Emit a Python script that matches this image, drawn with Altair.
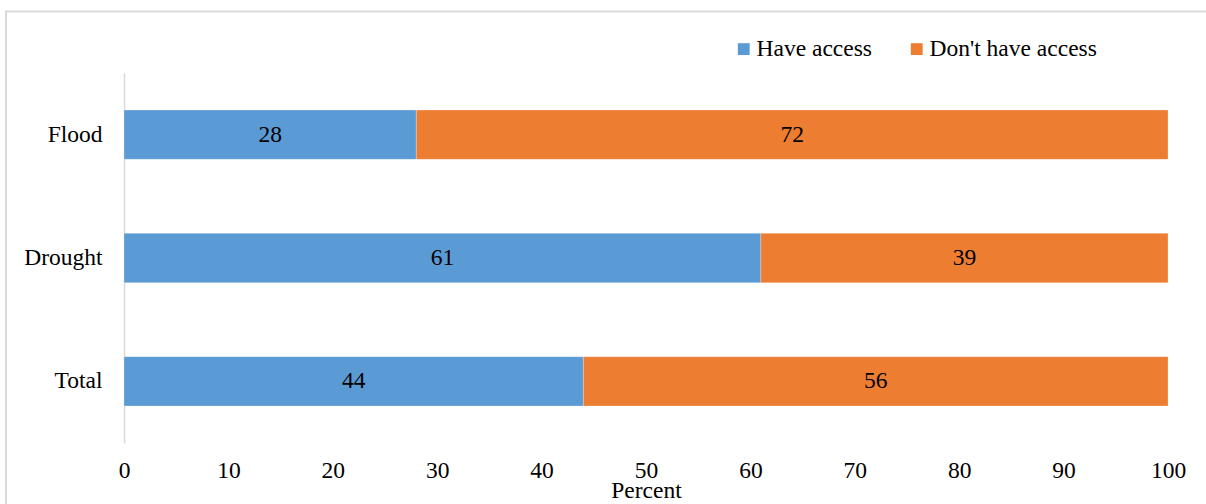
import altair as alt
import pandas as pd

categories = ["Flood", "Drought", "Total"]
have_access = [28, 61, 44]
no_access = [72, 39, 56]
series = ["Have access", "Don't have access"]
colors = ["#5B9BD5", "#ED7D31"]
x_ticks = [0, 10, 20, 30, 40, 50, 60, 70, 80, 90, 100]

rows = []
for c, a, n in zip(categories, have_access, no_access):
    rows.append({"Hazard": c, "Access": series[0], "Percent": a, "ord": 0})
    rows.append({"Hazard": c, "Access": series[1], "Percent": n, "ord": 1})
df = pd.DataFrame(rows)

FONT = "Liberation Serif"
FS = 23.5

base = alt.Chart(df).transform_stack(
    stack="Percent", as_=["start", "end"], groupby=["Hazard"],
    sort=[alt.SortField("ord", order="ascending")]
).transform_calculate(mid="(datum.start + datum.end) / 2")

y_enc = alt.Y("Hazard:N", sort=categories,
              scale=alt.Scale(paddingInner=0.6, paddingOuter=0.3),
              axis=alt.Axis(title=None, ticks=False, domainColor="#d9d9d9",
                            domainWidth=1.5, labelFont=FONT, labelFontSize=FS,
                            labelColor="black", labelPadding=22))

bars = base.mark_bar(stroke="white", strokeWidth=0.5, strokeOpacity=0.5).encode(
    x=alt.X("start:Q", scale=alt.Scale(domain=[0, 100], nice=False),
            axis=alt.Axis(values=x_ticks, title="Percent", domain=False, ticks=False,
                          grid=False, labelFont=FONT, labelFontSize=FS, labelFlush=False,
                          labelColor="black", labelPadding=15,
                          titleFont=FONT, titleFontSize=FS, titleFontWeight="normal",
                          titleColor="black", titlePadding=-3)),
    x2="end:Q",
    y=y_enc,
    color=alt.Color("Access:N", scale=alt.Scale(domain=series, range=colors),
                    legend=alt.Legend(title=None, orient="none", legendX=608, legendY=-36,
                                      direction="horizontal", symbolType="square",
                                      symbolSize=140, symbolStrokeWidth=0, labelLimit=400,
                                      labelFont=FONT, labelFontSize=FS, labelColor="black",
                                      labelOffset=1, columnPadding=33)),
)

labels = base.mark_text(font=FONT, fontSize=FS, color="black", baseline="middle").encode(
    x=alt.X("mid:Q"),
    y=alt.Y("Hazard:N", sort=categories),
    text=alt.Text("Percent:Q"),
)

frame_df = pd.DataFrame({"k": [0]})
top_rule = alt.Chart(frame_df).mark_rule(color="#d9d9d9", strokeWidth=2).encode(
    x=alt.value(-119), x2=alt.value(1200), y=alt.value(-61.5))
left_rule = alt.Chart(frame_df).mark_rule(color="#d9d9d9", strokeWidth=2).encode(
    x=alt.value(-118), y=alt.value(-62), y2=alt.value(500))

chart = alt.layer(top_rule, left_rule, bars, labels).properties(
    width=1044, height=370,
    padding={"left": 124, "top": 73, "right": 38, "bottom": 61},
    autosize=alt.AutoSizeParams(type="none"),
    background="white",
).configure_view(stroke=None)

chart.save("out.html", embed_options={"renderer": "svg", "actions": False})
